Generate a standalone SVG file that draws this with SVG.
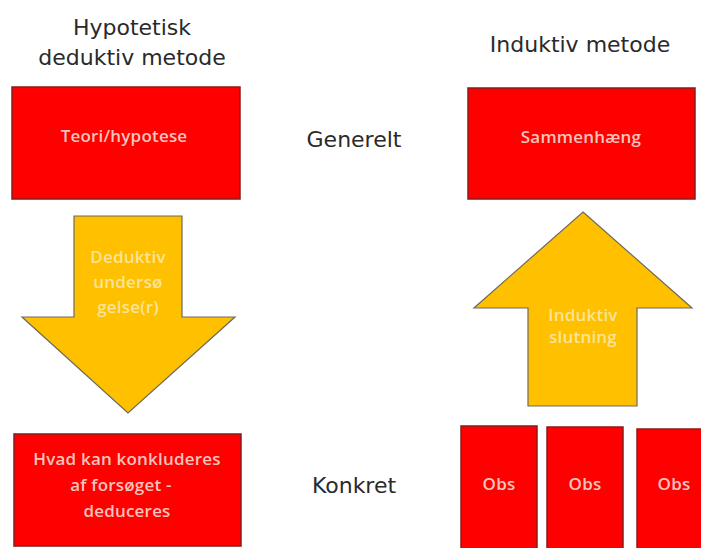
<svg xmlns="http://www.w3.org/2000/svg" width="701" height="548" viewBox="0 0 701 548">
<style>
.bg{fill:#ffffff}
.box{fill:#ff0000;stroke:#8c1a1a;stroke-width:1.5}
.arrow{fill:#ffc000;stroke:#6e6a5c;stroke-width:1.2;stroke-linejoin:miter}
.head{font-family:"DejaVu Sans",Verdana,sans-serif;font-size:22px;fill:#2a2a2a;text-anchor:middle}
.bt{font-family:"Open Sans","Liberation Sans",sans-serif;font-size:17px;font-weight:600;fill:#f6c4bc;text-anchor:middle;letter-spacing:0.2px}
.at{font-family:"Open Sans","Liberation Sans",sans-serif;font-size:17px;font-weight:600;fill:#fbe39a;text-anchor:middle;letter-spacing:0.2px}
</style>
<rect class="bg" x="0" y="0" width="701" height="548"/>
<g id="labels">
<text class="head" x="132" y="35">Hypotetisk</text>
<text class="head" x="132" y="65">deduktiv metode</text>
<text class="head" x="580" y="52">Induktiv metode</text>
<text class="head" x="354" y="147">Generelt</text>
<text class="head" x="354" y="493">Konkret</text>
</g>
<g id="connectors">
<g id="arrow-deduktiv">
<polygon class="arrow" points="74,216 182,216 182,317 235,317 128,413 22,317 74,317"/>
<text class="at" x="128" y="263">Deduktiv</text>
<text class="at" x="128" y="288">undersø</text>
<text class="at" x="128" y="313">gelse(r)</text>
</g>
<g id="arrow-induktiv">
<polygon class="arrow" points="583,212 692,308 637,308 637,406 528,406 528,308 474,308"/>
<text class="at" x="583" y="321">Induktiv</text>
<text class="at" x="583" y="343">slutning</text>
</g>
</g>
<g id="node-teori">
<rect class="box" x="12" y="87" width="228" height="112"/>
<text class="bt" x="124" y="142">Teori/hypotese</text>
</g>
<g id="node-sammenhaeng">
<rect class="box" x="468" y="88" width="227" height="111"/>
<text class="bt" x="581" y="143">Sammenhæng</text>
</g>
<g id="node-konkluderes">
<rect class="box" x="14" y="434" width="227" height="112"/>
<text class="bt" x="127" y="465">Hvad kan konkluderes</text>
<text class="bt" x="121" y="491">af forsøget -</text>
<text class="bt" x="127" y="517">deduceres</text>
</g>
<g id="node-obs1">
<rect class="box" x="461" y="426" width="76" height="130"/>
<text class="bt" x="499" y="490">Obs</text>
</g>
<g id="node-obs2">
<rect class="box" x="547" y="427" width="76" height="130"/>
<text class="bt" x="585" y="490">Obs</text>
</g>
<g id="node-obs3">
<rect class="box" x="637" y="429" width="76" height="130"/>
<text class="bt" x="674" y="490">Obs</text>
</g>
</svg>
